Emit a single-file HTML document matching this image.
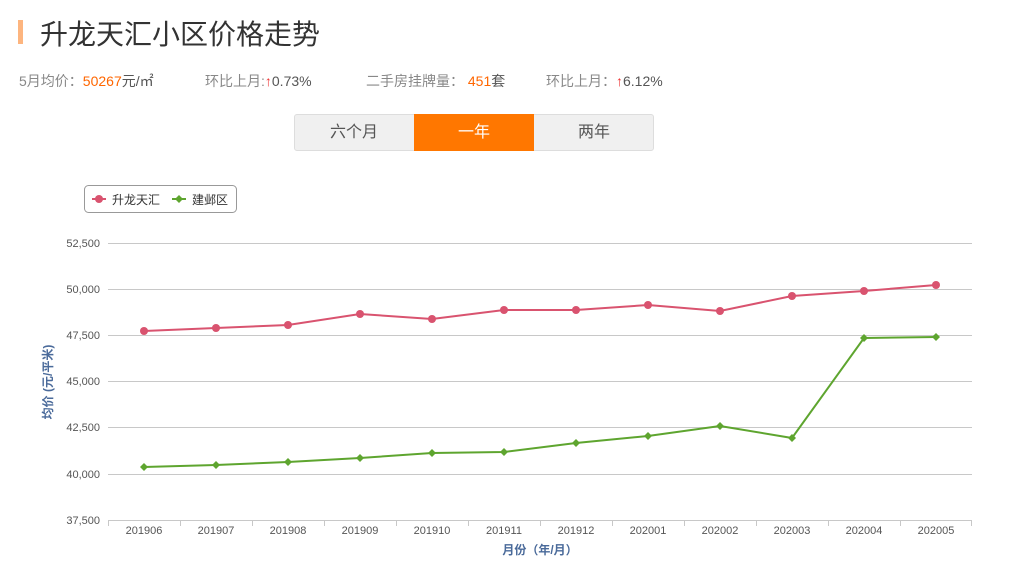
<!DOCTYPE html>
<html><head><meta charset="utf-8"><style>
body{margin:0;width:1017px;height:573px;background:#fff;font-family:"Liberation Sans","Noto Sans CJK SC",sans-serif;position:relative;overflow:hidden}
.a{position:absolute;white-space:nowrap}
</style></head><body>
<div class="a" style="left:18px;top:20px;width:5px;height:24px;background:#fdb57f"></div>
<div class="a" style="left:40px;top:13px;font-size:28px;color:#333">升龙天汇小区价格走势</div>
<div class="a" style="left:19px;top:71px;font-size:14px;color:#888">5月均价：<span style="color:#f60">50267</span><span style="color:#555">元/㎡</span></div>
<div class="a" style="left:205px;top:71px;font-size:14px;color:#888">环比上月:<span style="color:#e33">↑</span><span style="color:#555">0.73%</span></div>
<div class="a" style="left:366px;top:71px;font-size:14px;color:#888">二手房挂牌量： <span style="color:#f60">451</span><span style="color:#555">套</span></div>
<div class="a" style="left:546px;top:71px;font-size:14px;color:#888">环比上月：<span style="color:#e33">↑</span><span style="color:#555">6.12%</span></div>
<div class="a" style="left:294px;top:114px;width:358px;height:35px;background:#f0f0f0;border:1px solid #ddd;border-radius:3px"></div>
<div class="a" style="left:294px;top:114px;width:120px;height:37px;line-height:37px;text-align:center;font-size:16px;color:#555">六个月</div>
<div class="a" style="left:414px;top:114px;width:120px;height:37px;line-height:37px;text-align:center;font-size:16px;color:#fff;background:#ff7700">一年</div>
<div class="a" style="left:534px;top:114px;width:120px;height:37px;line-height:37px;text-align:center;font-size:16px;color:#555">两年</div>
<svg class="a" style="left:0;top:0" width="1017" height="573" font-family="Liberation Sans,Noto Sans CJK SC,sans-serif">
<rect x="84.5" y="185.5" width="152" height="27" rx="4" fill="#fff" stroke="#999"/>
<line x1="92" y1="199" x2="106" y2="199" stroke="#d9536f" stroke-width="2"/><circle cx="99" cy="199" r="4" fill="#d9536f"/>
<text x="112" y="204" font-size="12" fill="#333">升龙天汇</text>
<line x1="172" y1="199" x2="186" y2="199" stroke="#5ea52f" stroke-width="2"/><path d="M179 195l4 4-4 4-4-4z" fill="#5ea52f"/>
<text x="192" y="204" font-size="12" fill="#333">建邺区</text>
<g stroke="#c8c8c8" stroke-width="1">
<line x1="108" y1="243.5" x2="972" y2="243.5"/><line x1="108" y1="289.5" x2="972" y2="289.5"/><line x1="108" y1="335.5" x2="972" y2="335.5"/><line x1="108" y1="381.5" x2="972" y2="381.5"/><line x1="108" y1="427.5" x2="972" y2="427.5"/><line x1="108" y1="474.5" x2="972" y2="474.5"/><line x1="108" y1="520.5" x2="972" y2="520.5"/>
<path d="M108.5 520v6M180.5 520v6M252.5 520v6M324.5 520v6M396.5 520v6M468.5 520v6M540.5 520v6M612.5 520v6M684.5 520v6M756.5 520v6M828.5 520v6M900.5 520v6M971.5 520v6"/>
</g>
<g font-size="11" fill="#555" text-anchor="end">
<text x="100" y="247">52,500</text><text x="100" y="293">50,000</text><text x="100" y="339">47,500</text><text x="100" y="385">45,000</text><text x="100" y="431">42,500</text><text x="100" y="478">40,000</text><text x="100" y="524">37,500</text>
</g>
<g font-size="11" fill="#555" text-anchor="middle">
<text x="144" y="534">201906</text><text x="216" y="534">201907</text><text x="288" y="534">201908</text><text x="360" y="534">201909</text><text x="432" y="534">201910</text><text x="504" y="534">201911</text><text x="576" y="534">201912</text><text x="648" y="534">202001</text><text x="720" y="534">202002</text><text x="792" y="534">202003</text><text x="864" y="534">202004</text><text x="936" y="534">202005</text>
</g>
<text x="540" y="554" font-size="12" fill="#4a6a9a" text-anchor="middle" font-weight="bold">月份（年/月）</text>
<text transform="translate(52,382) rotate(-90)" font-size="12" fill="#4a6a9a" text-anchor="middle" font-weight="bold">均价 (元/平米)</text>
<polyline fill="none" stroke="#d9536f" stroke-width="2" points="144,331 216,328 288,325 360,314 432,319 504,310 576,310 648,305 720,311 792,296 864,291 936,285"/>
<g fill="#d9536f"><circle cx="144" cy="331" r="4"/><circle cx="216" cy="328" r="4"/><circle cx="288" cy="325" r="4"/><circle cx="360" cy="314" r="4"/><circle cx="432" cy="319" r="4"/><circle cx="504" cy="310" r="4"/><circle cx="576" cy="310" r="4"/><circle cx="648" cy="305" r="4"/><circle cx="720" cy="311" r="4"/><circle cx="792" cy="296" r="4"/><circle cx="864" cy="291" r="4"/><circle cx="936" cy="285" r="4"/></g>
<polyline fill="none" stroke="#5ea52f" stroke-width="2" points="144,467 216,465 288,462 360,458 432,453 504,452 576,443 648,436 720,426 792,438 864,338 936,337"/>
<g fill="#5ea52f"><path d="M144 463l4 4-4 4-4-4zM216 461l4 4-4 4-4-4zM288 458l4 4-4 4-4-4zM360 454l4 4-4 4-4-4zM432 449l4 4-4 4-4-4zM504 448l4 4-4 4-4-4zM576 439l4 4-4 4-4-4zM648 432l4 4-4 4-4-4zM720 422l4 4-4 4-4-4zM792 434l4 4-4 4-4-4zM864 334l4 4-4 4-4-4zM936 333l4 4-4 4-4-4z"/></g>
</svg>
</body></html>
